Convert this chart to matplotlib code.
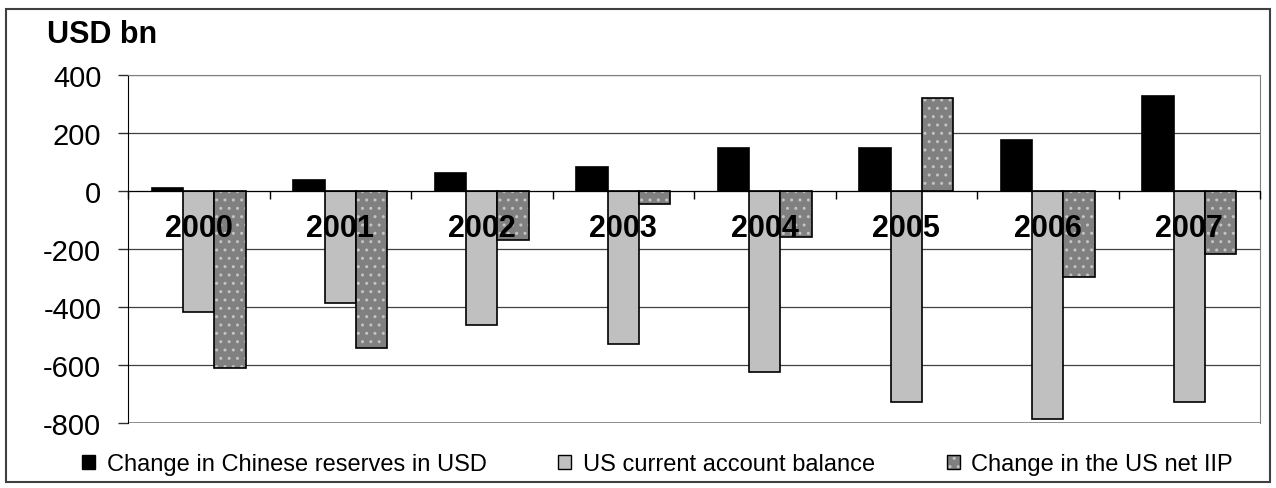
import numpy as np
import matplotlib
matplotlib.use('Agg')
import matplotlib.pyplot as plt
import matplotlib.ticker as ticker
from matplotlib.patches import Rectangle, Patch

plt.rcParams['font.family'] = ['Liberation Sans', 'DejaVu Sans']
plt.rcParams['axes.unicode_minus'] = False

years = ['2000', '2001', '2002', '2003', '2004', '2005', '2006', '2007']
cn_reserves = [10, 37, 62, 83, 148, 148, 177, 329]
us_current_account = [-416, -387, -462, -526, -624, -728, -787, -728]
us_net_iip = [-610, -540, -169, -46, -159, 321, -297, -216]
yticks = [-800, -600, -400, -200, 0, 200, 400]

W, H = 1276, 489
fig = plt.figure(figsize=(W / 100, H / 100), dpi=100)
ax = fig.add_axes([128 / W, 1 - 424 / H, (1260 - 128) / W, (424 - 76) / H])

x = np.arange(len(years))
w = 0.2226

ax.bar(x - w, cn_reserves, w, color='black', edgecolor='black', linewidth=1.2, zorder=2)
ax.bar(x, us_current_account, w, color='#c0c0c0', edgecolor='black', linewidth=1.2, zorder=2)
# dotted bars: light dots first, then the black outline on top
ax.bar(x + w, us_net_iip, w, color='#808080', edgecolor='#c4c4c4', hatch='..', linewidth=0, zorder=2)
ax.bar(x + w, us_net_iip, w, fill=False, edgecolor='black', linewidth=1.2, zorder=2.1)

ax.set_xlim(-0.5, len(years) - 0.5)
ax.set_ylim(-800, 400)
ax.set_yticks(yticks)
ax.yaxis.set_major_formatter(ticker.StrMethodFormatter('{x:.0f}'))
ax.tick_params(axis='y', direction='out', length=7.2, width=1, pad=12, labelsize=21, color='#303030')

# category axis sits on the zero line
ax.spines['bottom'].set_position(('data', 0))
ax.spines['bottom'].set_color('black')
ax.spines['left'].set_color('black')
for s in ['top', 'right']:
    ax.spines[s].set_color('#808080')
ax.set_xticks(np.arange(-0.5, len(years)), labels=[''] * (len(years) + 1))
ax.set_xticks(x, labels=years, minor=True)
ax.tick_params(axis='x', which='major', direction='out', length=5.8, width=1)
ax.tick_params(axis='x', which='minor', length=0, pad=16, labelsize=22)
for lab in ax.get_xticklabels(minor=True):
    lab.set_fontweight('bold')

ax.yaxis.grid(True, color='#404040', linewidth=0.9)
ax.axhline(-800, color='#808080', linewidth=1.2, zorder=2.5)
ax.yaxis.set_zorder(0.5)
ax.xaxis.set_zorder(5)

fig.text(47 / W, 1 - 43 / H, 'USD bn', fontsize=22, fontweight='bold', va='baseline', ha='left')

handles = [
    Patch(facecolor='black', edgecolor='black'),
    Patch(facecolor='#c0c0c0', edgecolor='black'),
    (Patch(facecolor='#808080', edgecolor='#c4c4c4', hatch='..', linewidth=0),
     Patch(fill=False, edgecolor='black')),
]
labels = ['Change in Chinese reserves in USD', 'US current account balance', 'Change in the US net IIP']
fig.legend(handles, labels, ncol=3, mode='expand', loc='center', frameon=False,
           bbox_to_anchor=(82 / W, 1 - 475 / H, (1233 - 82) / W, 20 / H),
           fontsize=17, handlelength=0.55, handleheight=0.55, handletextpad=0.5,
           borderpad=0, borderaxespad=0)

fig.add_artist(Rectangle((6 / W, 1 - 483 / H), (1270 - 6) / W, (483 - 10) / H,
                         transform=fig.transFigure, fill=False, edgecolor='#404040', linewidth=1.5))

fig.savefig('out.png', dpi=100)
